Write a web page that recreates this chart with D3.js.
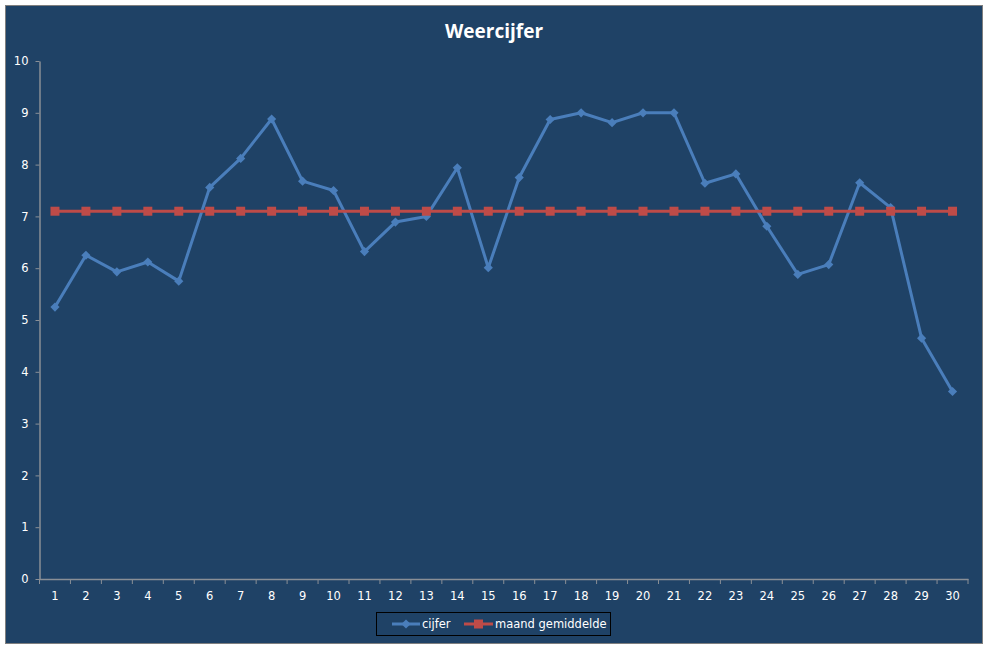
<!DOCTYPE html>
<html>
<head>
<meta charset="utf-8">
<script src="https://cdn.jsdelivr.net/npm/d3@7"></script>
<style>
  body { margin: 0; background: #fff; }
  text { font-family: "DejaVu Sans", Verdana, sans-serif; }
</style>
</head>
<body>
<div id="chart"></div>
<script>
const width = 987;
const height = 648;

// data
const days = d3.range(1, 31).map(String);
const cijfer = [5.25, 6.25, 5.93, 6.12, 5.75, 7.56, 8.12, 8.88, 7.68, 7.5,
                6.32, 6.89, 7.0, 7.94, 6.01, 7.75, 8.87, 9.0, 8.81, 9.0,
                9.0, 7.64, 7.82, 6.81, 5.88, 6.07, 7.65, 7.17, 4.65, 3.62];
const gemiddelde = [7.1, 7.1, 7.1, 7.1, 7.1, 7.1, 7.1, 7.1, 7.1, 7.1,
                    7.1, 7.1, 7.1, 7.1, 7.1, 7.1, 7.1, 7.1, 7.1, 7.1,
                    7.1, 7.1, 7.1, 7.1, 7.1, 7.1, 7.1, 7.1, 7.1, 7.1];
const yTicks = [0, 1, 2, 3, 4, 5, 6, 7, 8, 9, 10];

const margin = { top: 61, left: 39.5, bottom: 648 - 579, right: 987 - 968 };

const blue = "#4a7ebb";
const red = "#be4b48";
const axisColor = "#8a8f96";

const svg = d3.select("#chart").append("svg")
    .attr("width", width).attr("height", height);

// chart area + border
svg.append("rect")
    .attr("x", 5.5).attr("y", 5.5)
    .attr("width", 977).attr("height", 638)
    .attr("fill", "#1f4266")
    .attr("stroke", "#7f7f7f");

svg.append("text")
    .attr("x", 494).attr("y", 38)
    .attr("text-anchor", "middle")
    .attr("fill", "#fff")
    .style("font-family", "'Open Sans', sans-serif")
    .style("font-size", "19px")
    .style("font-weight", "bold")
    .text("Weercijfer");

const xScale = d3.scaleBand()
    .domain(days)
    .range([margin.left, width - margin.right]);

const yScale = d3.scaleLinear()
    .domain([0, 10])
    .range([height - margin.bottom, margin.top]);

const xc = d => xScale(d) + xScale.bandwidth() / 2;

// y axis
const yAxis = d3.axisLeft(yScale).tickValues(yTicks).tickSize(4).tickSizeOuter(0).tickPadding(7);
const gy = svg.append("g")
    .attr("transform", `translate(${margin.left},0)`)
    .call(yAxis);

// x axis (ticks at category boundaries)
const gx = svg.append("g")
    .attr("transform", `translate(0,${yScale(0)})`)
    .call(d3.axisBottom(xScale).tickSize(0).tickPadding(13));

gx.selectAll(".tick").append("line")
    .attr("x1", -xScale.bandwidth() / 2).attr("x2", -xScale.bandwidth() / 2)
    .attr("y1", 0).attr("y2", 5)
    .attr("stroke", axisColor);
gx.append("line")
    .attr("x1", width - margin.right).attr("x2", width - margin.right)
    .attr("y1", 0).attr("y2", 5)
    .attr("stroke", axisColor);

[gx, gy].forEach(g => {
    g.select(".domain").attr("stroke", axisColor).attr("stroke-width", 1.5);
    g.selectAll(".tick line").attr("stroke", axisColor);
    g.selectAll("text").attr("fill", "#fff").style("font-size", "11.5px");
});

const line = d3.line()
    .x((d, i) => xc(days[i]))
    .y(d => yScale(d));

// cijfer series
svg.append("path")
    .datum(cijfer)
    .attr("fill", "none")
    .attr("stroke", blue)
    .attr("stroke-width", 3)
    .attr("stroke-linejoin", "round")
    .attr("d", line);

// square rotated 45deg = diamond as in excel
const diamond = d3.symbol().type(d3.symbolSquare).size(42);

svg.append("g").selectAll("path")
    .data(cijfer)
    .join("path")
    .attr("transform", (d, i) => `translate(${xc(days[i])},${yScale(d)}) rotate(45)`)
    .attr("d", diamond)
    .attr("fill", blue);

// gemiddelde series
svg.append("path")
    .datum(gemiddelde)
    .attr("fill", "none")
    .attr("stroke", red)
    .attr("stroke-width", 3)
    .attr("d", line);

svg.append("g").selectAll("rect")
    .data(gemiddelde)
    .join("rect")
    .attr("x", (d, i) => xc(days[i]) - 4.5)
    .attr("y", d => yScale(d) - 4.5)
    .attr("width", 9).attr("height", 9)
    .attr("fill", red);

// legend
const legend = svg.append("g");
legend.append("rect")
    .attr("x", 376.5).attr("y", 612.5)
    .attr("width", 234).attr("height", 23)
    .attr("fill", "none")
    .attr("stroke", "#000");

legend.append("line")
    .attr("x1", 392).attr("x2", 420).attr("y1", 624).attr("y2", 624)
    .attr("stroke", blue).attr("stroke-width", 3);
legend.append("path")
    .attr("transform", "translate(406,624) rotate(45)")
    .attr("d", diamond)
    .attr("fill", blue);
legend.append("text")
    .attr("x", 422).attr("y", 628)
    .attr("fill", "#fff").style("font-size", "11.5px")
    .text("cijfer");

legend.append("line")
    .attr("x1", 464).attr("x2", 493).attr("y1", 624).attr("y2", 624)
    .attr("stroke", red).attr("stroke-width", 3);
legend.append("rect")
    .attr("x", 474).attr("y", 619.5).attr("width", 9).attr("height", 9)
    .attr("fill", red);
legend.append("text")
    .attr("x", 495).attr("y", 628)
    .attr("fill", "#fff").style("font-size", "11.5px")
    .text("maand gemiddelde");
</script>
</body>
</html>
